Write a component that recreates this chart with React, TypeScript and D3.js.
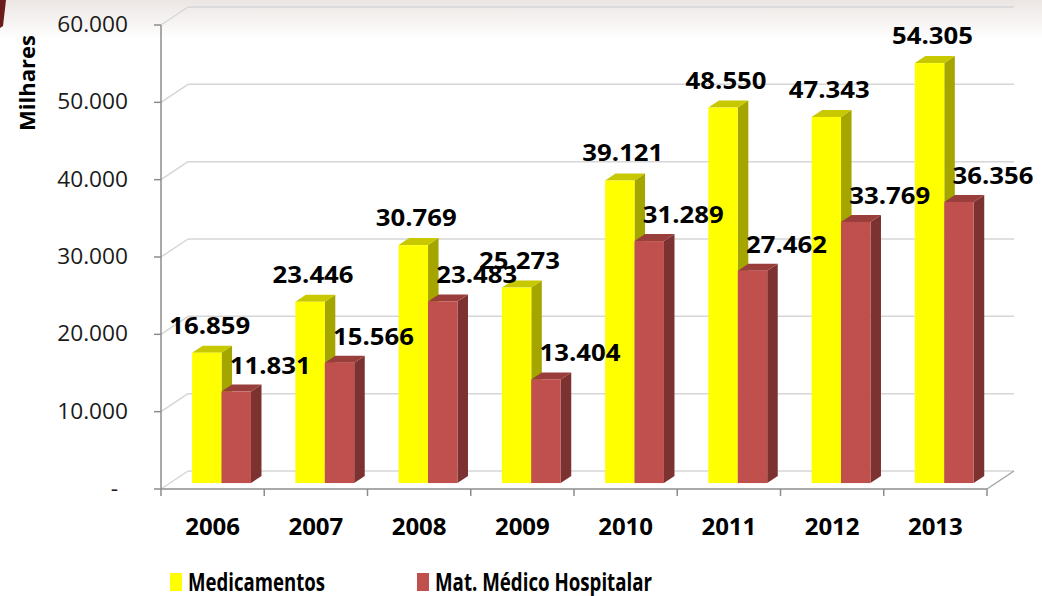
import React from "react";
import * as d3 from "d3";

const years = ["2006", "2007", "2008", "2009", "2010", "2011", "2012", "2013"];
const medicamentos = [16859, 23446, 30769, 25273, 39121, 48550, 47343, 54305];
const matMedico = [11831, 15566, 23483, 13404, 31289, 27462, 33769, 36356];
const seriesNames = ["Medicamentos", "Mat. Médico Hospitalar"];
const yTicks = [0, 10000, 20000, 30000, 40000, 50000, 60000];

const W = 1042, H = 596;
const x0 = 161, x1 = 987, yBase = 489, yTop = 25;
const DX = 27, DY = 18; // floor depth
const F0 = 0.33, F1 = 0.72; // bar front/back depth fractions

const fmt = (v: number) => (v === 0 ? "-" : d3.format(",")(v).replace(/,/g, "."));

const colors = [
  { front: "#FFFF00", top: "#C8C800", side: "#A5A500" },
  { front: "#C0504D", top: "#9A3E3C", side: "#7C3230" },
];

export default function App() {
  const x = d3.scaleBand<string>().domain(years).range([x0, x1]).paddingInner(0.43).paddingOuter(0.215);
  const sub = d3.scaleBand<number>().domain([0, 1]).range([0, x.bandwidth()]);
  const y = d3.scaleLinear().domain([0, 60000]).range([yBase, yTop]);
  const step = x.step();
  const bw = sub.bandwidth();
  const ox = F0 * DX, oy = F0 * DY;
  const bdx = (F1 - F0) * DX, bdy = (F1 - F0) * DY;

  const data = [medicamentos, matMedico];

  return (
    <svg width={W} height={H} style={{ position: "absolute", left: 0, top: 0, background: "#fff" }}
      fontFamily="'Open Sans', sans-serif">
      <defs>
        <linearGradient id="bg" x1="0" y1="0" x2="0" y2="1">
          <stop offset="0" stopColor="#ebe6e4" />
          <stop offset="1" stopColor="#ffffff" />
        </linearGradient>
      </defs>
      <rect x={0} y={0} width={W} height={40} fill="url(#bg)" />
      <path d="M0,0 L6,0 L3,26 L0,28 Z" fill="#6a1b1b" />

      {/* back wall gridlines */}
      {yTicks.map((t) => (
        <g key={t} stroke="#d6d6d6" strokeWidth={1.5} fill="none">
          <line x1={x0} y1={y(t)} x2={x0 + DX} y2={y(t) - DY} />
          <line x1={x0 + DX} y1={y(t) - DY} x2={x1 + DX} y2={y(t) - DY} />
        </g>
      ))}
      {/* floor right edge */}
      <line x1={x1} y1={yBase} x2={x1 + DX} y2={yBase - DY} stroke="#a6a6a6" strokeWidth={1.5} />

      {/* bars */}
      {years.map((yr, i) =>
        data.map((s, k) => {
          const v = s[i];
          const c = colors[k];
          const fx = (x(yr) as number) + (sub(k) as number) + ox;
          const fy = y(v) - oy;
          const by = yBase - oy;
          return (
            <g key={yr + k}>
              <path d={`M${fx + bw},${fy} L${fx + bw + bdx},${fy - bdy} L${fx + bw + bdx},${by - bdy} L${fx + bw},${by} Z`} fill={c.side} />
              <path d={`M${fx},${fy} L${fx + bdx},${fy - bdy} L${fx + bw + bdx},${fy - bdy} L${fx + bw},${fy} Z`} fill={c.top} />
              <rect x={fx} y={fy} width={bw} height={by - fy} fill={c.front} />
            </g>
          );
        })
      )}

      {/* axes */}
      <line x1={x0} y1={yTop} x2={x0} y2={yBase} stroke="#8c8c8c" strokeWidth={1.5} />
      <line x1={x0} y1={yBase} x2={x1} y2={yBase} stroke="#8c8c8c" strokeWidth={1.5} />
      {yTicks.map((t) => {
        const tx = t === 0 ? 118 : 128;
        return (
          <g key={"t" + t}>
            <line x1={x0 - 7} y1={y(t)} x2={x0} y2={y(t)} stroke="#8c8c8c" strokeWidth={1.5} />
            <text x={tx} y={y(t) + 7} textAnchor="end" fontSize={21} fill="#1a1a1a"
              transform={`translate(${tx},0) scale(1.08,1) translate(${-tx},0)`}>
              {fmt(t)}
            </text>
          </g>
        );
      })}
      {years.map((yr, i) => (
        <line key={"xt" + yr} x1={x0 + step * (i + 1)} y1={yBase} x2={x0 + step * (i + 1)} y2={yBase + 7}
          stroke="#8c8c8c" strokeWidth={1.5} />
      ))}
      <line x1={x0} y1={yBase} x2={x0} y2={yBase + 7} stroke="#8c8c8c" strokeWidth={1.5} />
      {years.map((yr) => (
        <text key={"xl" + yr} x={(x(yr) as number) + x.bandwidth() / 2} y={535} textAnchor="middle"
          fontSize={24} fontWeight="bold" fill="#000">
          {yr}
        </text>
      ))}

      <text transform={`translate(35,83) rotate(-90)`} textAnchor="middle" fontSize={22} fontWeight="bold" fill="#000">
        Milhares
      </text>

      {/* data labels */}
      {years.map((yr, i) =>
        data.map((s, k) => {
          const v = s[i];
          const fx = (x(yr) as number) + (sub(k) as number) + ox;
          const cx = fx + bw / 2 + (k === 0 ? 3 : 34);
          const ly = y(v) - (k === 0 ? 25 : 24);
          return (
            <text key={"dl" + yr + k} x={cx} y={ly} textAnchor="middle" fontSize={23} fontWeight="bold" fill="#000"
              transform={`translate(${cx},0) scale(1.12,1) translate(${-cx},0)`}>
              {fmt(v)}
            </text>
          );
        })
      )}

      {/* legend */}
      <rect x={170} y={573} width={12} height={18} fill={colors[0].front} />
      <text x={188} y={591} fontSize={25} fontWeight="bold" fill="#000" textLength={137} lengthAdjust="spacingAndGlyphs">
        {seriesNames[0]}
      </text>
      <rect x={417} y={573} width={12} height={18} fill={colors[1].front} />
      <text x={435} y={591} fontSize={25} fontWeight="bold" fill="#000" textLength={217} lengthAdjust="spacingAndGlyphs">
        {seriesNames[1]}
      </text>
    </svg>
  );
}
